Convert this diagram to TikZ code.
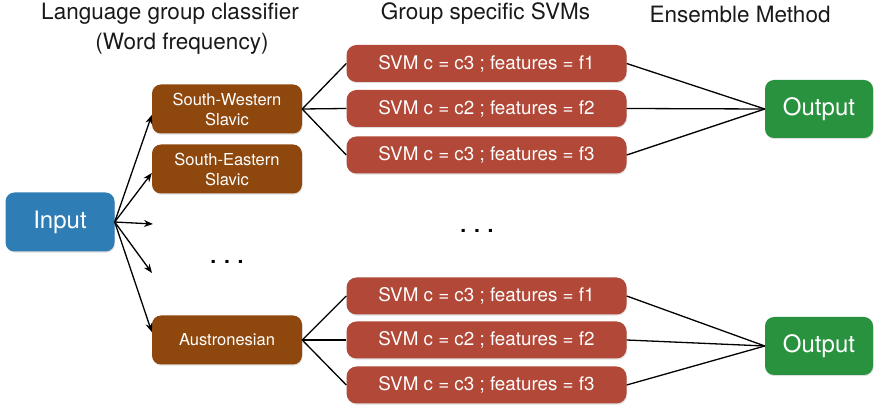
\documentclass[tikz,border=0pt]{standalone}
\usepackage{fontspec}
\setmainfont{TeX Gyre Heros}
\usetikzlibrary{arrows.meta,shadows}
\definecolor{inblue}{RGB}{46,125,181}
\definecolor{langbrown}{RGB}{142,72,14}
\definecolor{svmred}{RGB}{178,72,56}
\definecolor{outgreen}{RGB}{40,146,62}
\definecolor{headtext}{RGB}{25,25,25}
\begin{document}
\begin{tikzpicture}[x=1pt,y=-1pt,
  box/.style={rounded corners=9pt, text=white, inner sep=0pt, align=center,
    drop shadow={opacity=0.25, shadow xshift=0.6pt, shadow yshift=-1.2pt}},
  inbox/.style={box, fill=inblue, minimum width=109pt, minimum height=59pt, font=\fontsize{24}{28}\selectfont},
  langbox/.style={box, fill=langbrown, minimum width=150pt, minimum height=49pt, font=\fontsize{16.5}{20}\selectfont},
  svmbox/.style={box, fill=svmred, minimum width=280pt, minimum height=37pt, rounded corners=10pt, font=\fontsize{18.8}{20}\selectfont},
  outbox/.style={box, fill=outgreen, minimum width=108pt, minimum height=58pt, font=\fontsize{24}{28}\selectfont},
  heading/.style={text=headtext, font=\fontsize{22.5}{26}\selectfont, inner sep=0pt},
  dotstext/.style={text=black, font=\fontsize{21}{24}\selectfont\bfseries, inner sep=0pt},
  arr/.style={line width=1.3pt, -{Stealth[length=9pt,width=7pt]}},
  conn/.style={line width=1.3pt}
]
\useasboundingbox (0,0) rectangle (879,411);

% headings
\node[heading] (h1) at (170,14) {Language group classifier};
\node[heading] (h1b) at (182,44) {(Word frequency)};
\node[heading] (h2) at (485.5,14) {Group specific SVMs};
\node[heading] (h3) at (740,14) {Ensemble Method};

% input
\node[inbox] (in) at (60,222) {Input};

% language groups
\node[langbox] (sw) at (227,109) {South-Western\\Slavic};
\node[langbox] (se) at (227,169) {South-Eastern\\Slavic};
\node[langbox] (au) at (227,340) {Austronesian};
\node[dotstext] (ldots) at (227,262) {. . .};
\coordinate (d1) at (153,224);
\coordinate (d2) at (152,273);

% SVMs top
\node[svmbox] (s1) at (486.5,63.5) {SVM c = c3 ; features = f1};
\node[svmbox] (s2) at (486.5,108.5) {SVM c = c2 ; features = f2};
\node[svmbox] (s3) at (486.5,155) {SVM c = c3 ; features = f3};
\node[dotstext] (mdots) at (477,231) {. . .};
% SVMs bottom
\node[svmbox] (b1) at (486.5,296) {SVM c = c3 ; features = f1};
\node[svmbox] (b2) at (486.5,340) {SVM c = c2 ; features = f2};
\node[svmbox] (b3) at (486.5,385) {SVM c = c3 ; features = f3};

% outputs
\node[outbox] (o1) at (819,109) {Output};
\node[outbox] (o2) at (819,346) {Output};

% arrows from input
\draw[arr] (in.east) -- ([yshift=-6pt]sw.west);
\draw[arr] (in.east) -- ([yshift=-4pt]se.west);
\draw[arr] (in.east) -- (d1);
\draw[arr] (in.east) -- (d2);
\draw[arr] (in.east) -- ([yshift=8pt]au.west);

% group to SVMs
\foreach \s in {s1,s2,s3} \draw[conn] (sw.east) -- (\s.west);
\foreach \s in {b1,b2,b3} \draw[conn] (au.east) -- (\s.west);
% SVMs to outputs
\foreach \s in {s1,s2,s3} \draw[conn] (\s.east) -- (o1.west);
\foreach \s in {b1,b2,b3} \draw[conn] (\s.east) -- (o2.west);
\end{tikzpicture}
\end{document}
